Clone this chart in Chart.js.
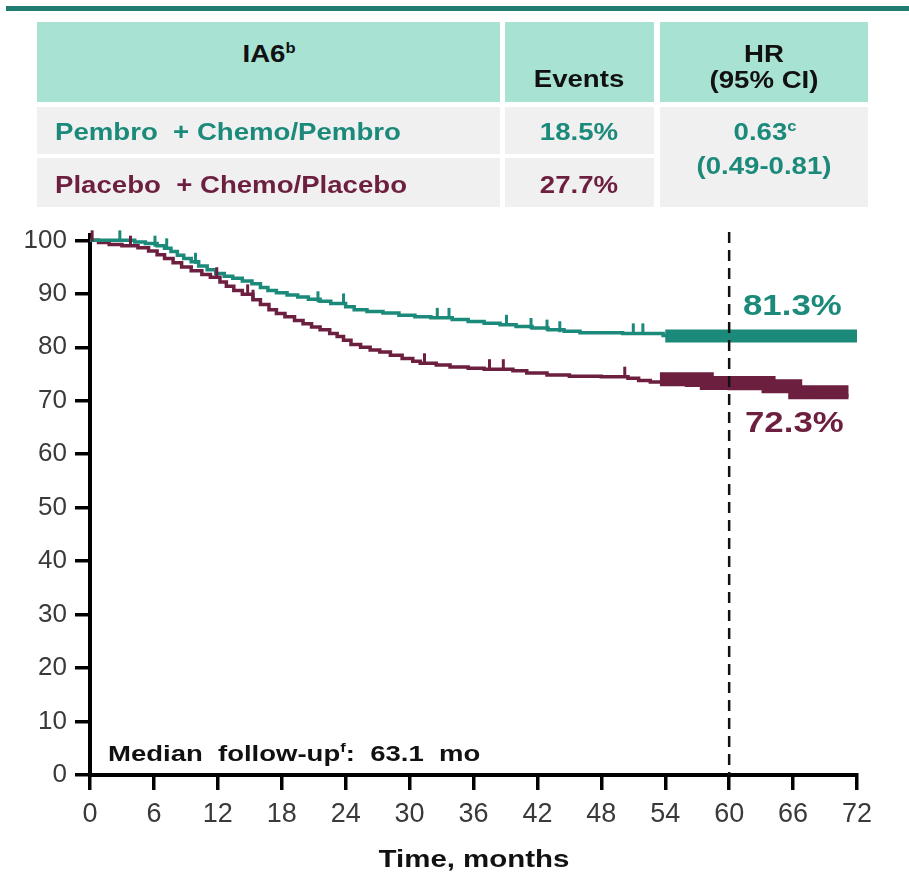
<!DOCTYPE html>
<html>
<head>
<meta charset="utf-8">
<script src="https://cdn.jsdelivr.net/npm/chart.js@4.4.1/dist/chart.umd.min.js"></script>
<style>
  html, body { margin: 0; padding: 0; background: #fff; }
  #page { position: relative; width: 909px; height: 873px; overflow: hidden; }
  #km { position: absolute; left: 0; top: 0; }
  .rule { position: absolute; left: 6px; top: 6px; width: 903px; height: 5px; background: #1e7c70; }
  .cell { position: absolute; }
  .hd { background: #a8e2d3; }
  .bd { background: #f0f0f0; }
  .t { position: absolute; font-family: "Liberation Sans", Arial, sans-serif; font-weight: bold;
       white-space: pre; line-height: 1; }
  .c { transform: translate(-50%, -50%) scaleX(1.2); }
  .l { transform: translateY(-50%) scaleX(1.2); transform-origin: left center; }
  .sup { font-size: 60%; position: relative; top: -0.65em; }
  .teal { color: #1b8a7a; }
  .maroon { color: #6d1f40; }
  .blk { color: #111; }
</style>
</head>
<body>
<div id="page">
  <canvas id="km" width="909" height="873"></canvas>

  <div class="rule"></div>
  <div class="cell hd" style="left:37px;top:22px;width:463px;height:80px"></div>
  <div class="cell hd" style="left:505px;top:22px;width:149px;height:80px"></div>
  <div class="cell hd" style="left:660px;top:22px;width:208px;height:80px"></div>
  <div class="cell bd" style="left:37px;top:107px;width:463px;height:47px"></div>
  <div class="cell bd" style="left:505px;top:107px;width:149px;height:47px"></div>
  <div class="cell bd" style="left:37px;top:158px;width:463px;height:49px"></div>
  <div class="cell bd" style="left:505px;top:158px;width:149px;height:49px"></div>
  <div class="cell bd" style="left:660px;top:107px;width:208px;height:100px"></div>

  <div class="t c blk" style="left:269px;top:54px;font-size:23px">IA6<span class="sup">b</span></div>
  <div class="t c blk" style="left:579px;top:79px;font-size:23px">Events</div>
  <div class="t c blk" style="left:764px;top:54px;font-size:23px">HR</div>
  <div class="t c blk" style="left:764px;top:80px;font-size:23px">(95% CI)</div>

  <div class="t l teal" style="left:55px;top:132px;font-size:23px">Pembro  + Chemo/Pembro</div>
  <div class="t c teal" style="left:579px;top:132px;font-size:23px">18.5%</div>
  <div class="t c teal" style="left:765px;top:132px;font-size:23px">0.63<span class="sup">c</span></div>
  <div class="t c teal" style="left:764px;top:166px;font-size:23px">(0.49-0.81)</div>
  <div class="t l maroon" style="left:55px;top:185px;font-size:23px">Placebo  + Chemo/Placebo</div>
  <div class="t c maroon" style="left:579px;top:185px;font-size:23px">27.7%</div>

  <div class="t l teal" style="left:743px;top:305px;font-size:30px;transform:translateY(-50%) scaleX(1.16)">81.3%</div>
  <div class="t l maroon" style="left:745px;top:422px;font-size:30px;transform:translateY(-50%) scaleX(1.16)">72.3%</div>
  <div class="t l blk" style="left:108px;top:754px;font-size:22px;transform:translateY(-50%) scaleX(1.25)">Median  follow-up<span class="sup">f</span>:  63.1  mo</div>
  <div class="t c blk" style="left:474px;top:859px;font-size:23px;transform:translate(-50%,-50%) scaleX(1.28)">Time, months</div>
</div>

<script>
// axis ticks
const xTicks = [0, 6, 12, 18, 24, 30, 36, 42, 48, 54, 60, 66, 72];
const yTicks = [0, 10, 20, 30, 40, 50, 60, 70, 80, 90, 100];

// Pembro + Chemo/Pembro KM curve (month of drop, survival % after drop)
const pembroT = [0, 4.2, 5.2, 6.3, 7.0, 7.6, 8.2, 8.8, 9.5, 10.2, 11.0, 11.8, 12.6, 13.4, 14.3, 15.2, 16.0,
  16.7, 17.5, 18.5, 19.5, 20.5, 21.6, 22.6, 24.0, 24.8, 26.0, 27.5, 29.0, 30.5, 32.0, 34.0, 35.5, 37.0,
  38.5, 40.0, 41.5, 43.0, 44.5, 46.0, 50.0, 53.8, 54.3, 58.0, 60.0, 72.0];
const pembroS = [100, 99.7, 99.4, 99.0, 98.5, 97.9, 97.2, 96.6, 96.0, 95.2, 94.5, 93.8, 93.3, 92.9, 92.4, 91.9, 91.2,
  90.6, 90.2, 89.8, 89.4, 89.0, 88.6, 88.2, 87.6, 87.0, 86.7, 86.4, 86.0, 85.7, 85.5, 85.2, 84.8, 84.5,
  84.2, 83.9, 83.6, 83.3, 83.0, 82.7, 82.6, 82.2, 81.5, 81.4, 81.3, 81.3];

// Placebo + Chemo/Placebo KM curve
const placeboT = [0, 0.8, 1.8, 3.0, 4.5, 5.5, 6.3, 7.0, 7.8, 8.6, 9.5, 10.5, 11.3, 12.2, 12.8, 13.5, 14.3,
  15.3, 16.0, 16.8, 17.5, 18.3, 19.2, 20.0, 20.8, 21.6, 22.5, 23.2, 23.8, 24.5, 25.4, 26.3, 27.2, 28.2,
  29.3, 30.3, 31.0, 32.5, 33.8, 35.5, 37.0, 39.7, 41.0, 42.9, 45.0, 48.0, 50.5, 51.5, 52.6, 54.0, 56.0,
  58.0, 60.0, 64.0, 66.2, 68.0, 71.2];
const placeboS = [100, 99.6, 99.2, 99.0, 98.6, 98.0, 97.3, 96.6, 95.8, 95.0, 94.3, 93.6, 93.1, 92.2, 91.4, 90.6, 89.9,
  88.9, 88.0, 87.0, 86.3, 85.7, 85.0, 84.4, 83.8, 83.3, 82.6, 82.0, 81.3, 80.5, 80.0, 79.5, 79.1, 78.5,
  77.9, 77.4, 77.0, 76.7, 76.3, 76.1, 75.9, 75.6, 75.2, 74.8, 74.6, 74.5, 74.2, 73.8, 73.5, 73.2, 72.9,
  72.6, 72.3, 72.0, 71.4, 71.0, 71.0];

// dense censoring in the tail (drawn as a thick band)
const pembroBandT = [54.0, 72.0];
const pembroBandS = [82.1, 82.1];
const placeboBandT = [53.5, 57.9, 63.7, 66.2, 71.2];
const placeboBandS = [74.0, 73.3, 72.7, 71.6, 71.6];

// individual censor marks
const pembroCensorT = [2.8, 6.1, 7.2, 9.9, 21.4, 23.8, 32.6, 33.7, 39.1, 41.4, 42.9, 44.1, 51.0, 51.9];
const pembroCensorS = [100, 99.0, 98.5, 95.8, 88.6, 88.2, 85.5, 85.5, 84.2, 83.6, 83.3, 83.0, 82.6, 82.6];
const placeboCensorT = [0.2, 3.8, 11.9, 14.8, 15.3, 31.4, 37.5, 38.8, 50.2];
const placeboCensorS = [100, 99.0, 93.1, 89.9, 88.9, 77.0, 75.9, 75.9, 74.5];

const milestone = 60;

const TEAL = "#1b8a7a", MAROON = "#6d1f40";
const pts = (t, s) => t.map((v, i) => ({ x: v, y: s[i] }));

const overlay = {
  id: "overlay",
  afterDatasetsDraw(chart) {
    const { ctx, scales: { x, y }, chartArea } = chart;
    ctx.save();
    // censor ticks
    ctx.lineWidth = 3;
    [[pembroCensorT, pembroCensorS, TEAL], [placeboCensorT, placeboCensorS, MAROON]].forEach(([t, s, col]) => {
      ctx.strokeStyle = col;
      t.forEach((v, i) => {
        const px = x.getPixelForValue(v), py = y.getPixelForValue(s[i]);
        ctx.beginPath(); ctx.moveTo(px, py + 1); ctx.lineTo(px, py - 10); ctx.stroke();
      });
    });
    // 60-month dashed line
    const mx = x.getPixelForValue(milestone);
    ctx.strokeStyle = "#111"; ctx.lineWidth = 2.5; ctx.setLineDash([11, 7]);
    ctx.beginPath(); ctx.moveTo(mx, chartArea.top - 3); ctx.lineTo(mx, chartArea.bottom); ctx.stroke();
    ctx.restore();
  },
};

const line = (data, color, w) => ({
  data, borderColor: color, backgroundColor: color, borderWidth: w,
  stepped: true, pointRadius: 0, fill: false, clip: false,
});

new Chart(document.getElementById("km"), {
  type: "line",
  data: {
    datasets: [
      line(pts(pembroT, pembroS), TEAL, 3.5),
      line(pts(pembroBandT, pembroBandS), TEAL, 13),
      line(pts(placeboT, placeboS), MAROON, 3.5),
      line(pts(placeboBandT, placeboBandS), MAROON, 14),
    ],
  },
  options: {
    responsive: false, animation: false, devicePixelRatio: 1,
    layout: { padding: { top: 235, right: 52, left: 0, bottom: 0 } },
    plugins: { legend: { display: false }, tooltip: { enabled: false } },
    scales: {
      x: {
        type: "linear", min: 0, max: 72,
        afterBuildTicks: s => { s.ticks = xTicks.map(v => ({ value: v })); },
        afterFit: s => { s.height = 98; },
        ticks: { autoSkip: false, maxRotation: 0, padding: 8, color: "#3a3a3a",
                 font: { family: "Liberation Sans, Arial", size: 27 } },
        grid: { drawOnChartArea: false, drawTicks: true, tickLength: 15, lineWidth: 3.5, color: "#000" },
        border: { display: true, width: 4, color: "#000" },
      },
      y: {
        min: 0, max: 101,
        afterBuildTicks: s => { s.ticks = yTicks.map(v => ({ value: v })); },
        afterFit: s => { s.width = 90; },
        ticks: { padding: 8, color: "#3a3a3a", font: { family: "Liberation Sans, Arial", size: 26 } },
        grid: { drawOnChartArea: false, drawTicks: true, tickLength: 15, lineWidth: 3.5, color: "#000" },
        border: { display: true, width: 4, color: "#000" },
      },
    },
  },
  plugins: [overlay],
});
</script>
</body>
</html>
